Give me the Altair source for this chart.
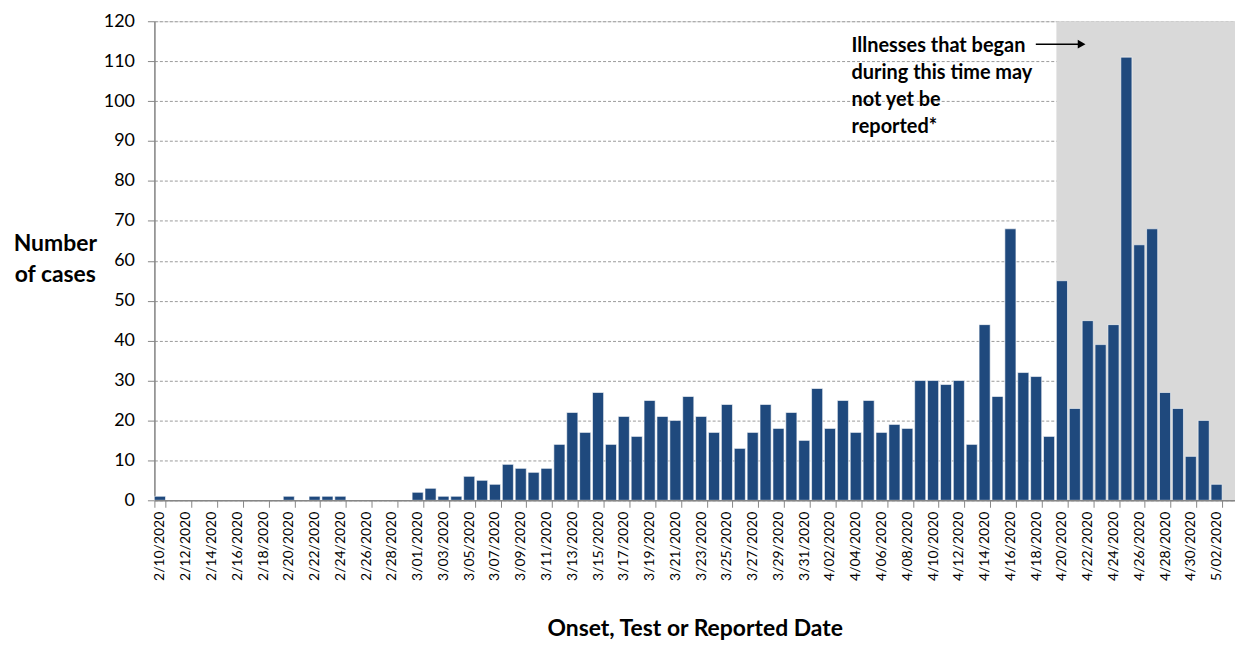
import altair as alt
import pandas as pd

# Categories: onset dates shown on the x axis
dates = [f"{d.month}/{d.day:02d}/{d.year}" for d in pd.date_range("2020-02-10", "2020-05-02")]
label_dates = dates[::2]

# Number of cases per date
cases = [
    # Feb 10 - Feb 29
    1, 0, 0, 0, 0, 0, 0, 0, 0, 0,
    1, 0, 1, 1, 1, 0, 0, 0, 0, 0,
    # Mar 1 - Mar 31
    2, 3, 1, 1, 6, 5, 4, 9, 8, 7,
    8, 14, 22, 17, 27, 14, 21, 16, 25, 21,
    20, 26, 21, 17, 24, 13, 17, 24, 18, 22, 15,
    # Apr 1 - Apr 30
    28, 18, 25, 17, 25, 17, 19, 18, 30, 30,
    29, 30, 14, 44, 26, 68, 32, 31, 16, 55,
    23, 45, 39, 44, 111, 64, 68, 27, 23, 11,
    # May 1 - May 2
    20, 4,
]

shade_start = ["4/20/2020"]
note_lines = ["Illnesses that began", "during this time may", "not yet be", "reported*"]
y_ticks = list(range(0, 130, 10))

FONT = "Lato"
BAR = "#1F497D"

df = pd.DataFrame({"date": dates, "cases": cases})

x_scale = alt.Scale(domain=dates, paddingInner=0.14, paddingOuter=0.5, align=0)
y_scale = alt.Scale(domain=[0, 120], nice=False)

shade = alt.Chart(pd.DataFrame({"start": shade_start})).mark_rect(color="#D9D9D9").encode(
    x=alt.X("start:N", scale=x_scale, bandPosition=0),
    x2=alt.value("width"),
    y=alt.value(0),
    y2=alt.value("height"),
)

bars = alt.Chart(df).mark_bar(color=BAR, stroke="#ffffff", strokeWidth=0.6).encode(
    x=alt.X(
        "date:N",
        scale=x_scale,
        sort=None,
        axis=alt.Axis(
            title="Onset, Test or Reported Date",
            values=label_dates,
            labelAngle=-90,
            labelFontSize=14,
            labelFont=FONT,
            labelColor="#000000",
            labelPadding=4,
            tickBand="extent",
            tickSize=7,
            tickColor="#868686",
            domainColor="#868686",
            domainWidth=1.5,
            titleFont=FONT,
            titleFontSize=23,
            titleFontWeight="bold",
            titleColor="#000000",
            titlePadding=37,
            grid=False,
        ),
    ),
    y=alt.Y(
        "cases:Q",
        scale=y_scale,
        axis=alt.Axis(
            title=["Number", "of cases"],
            values=y_ticks,
            labelFontSize=18,
            labelFont=FONT,
            labelColor="#000000",
            labelPadding=13,
            tickSize=7,
            tickColor="#868686",
            domainColor="#868686",
            domainWidth=1.5,
            grid=True,
            gridColor="#9A9A9A",
            gridDash=[3, 2],
            gridWidth=1,
            titleAngle=0,
            titleAlign="center",
            titleBaseline="top",
            titleX=-100,
            titleY=212,
            titleFont=FONT,
            titleFontSize=23,
            titleFontWeight="bold",
            titleColor="#000000",
            titleLineHeight=31,
        ),
    ),
)

note = alt.Chart(pd.DataFrame({"t": ["\n".join(note_lines)]})).mark_text(
    align="left", baseline="middle", font=FONT, fontSize=20, fontWeight="bold",
    lineBreak="\n", lineHeight=27, color="#000000",
).encode(x=alt.value(700), y=alt.value(25), text="t:N")

arrow_line = alt.Chart(pd.DataFrame({"a": [0]})).mark_rule(color="#000000", strokeWidth=1.5).encode(
    x=alt.value(885), x2=alt.value(928), y=alt.value(23)
)
arrow_head = alt.Chart(pd.DataFrame({"a": [0]})).mark_point(
    shape="triangle-right", filled=True, size=80, color="#000000", opacity=1
).encode(x=alt.value(931), y=alt.value(23))

chart = alt.layer(shade, bars, note, arrow_line, arrow_head).properties(
    width=1085,
    height=481,
    padding={"left": 5, "top": 3, "right": 0, "bottom": 0},
).configure_view(stroke=None).configure(background="#ffffff")

chart.save("out.html", embed_options={"renderer": "svg", "actions": False})
